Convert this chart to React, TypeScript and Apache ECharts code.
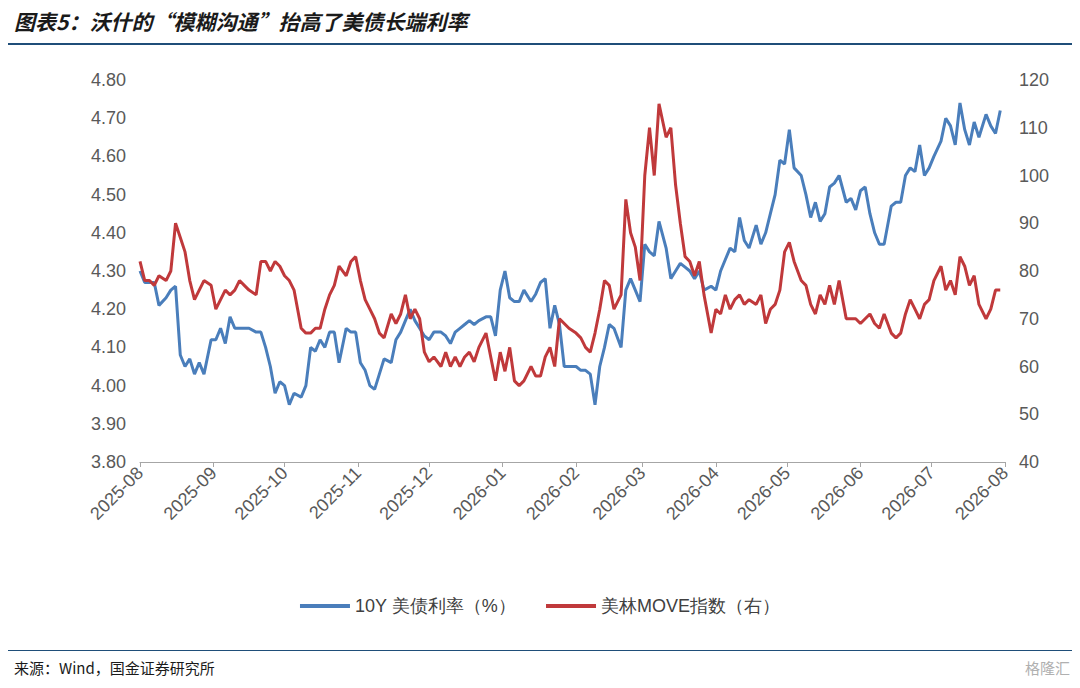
import * as echarts from 'echarts';
import { useEffect, useRef } from 'react';

// sampled roughly every 2.11 days from 2025-08-01
const startDate = Date.UTC(2025, 7, 1);
const stepDays = 2.11;

const yieldValues = [
    4.30, 4.27, 4.27, 4.27, 4.21, 4.23, 4.25, 4.26, 4.08, 4.05, 4.07, 4.03, 4.06, 4.03, 4.12, 4.12, 4.15, 4.11, 4.18, 4.15,
    4.15, 4.15, 4.15, 4.14, 4.14, 4.10, 4.05, 3.98, 4.01, 4.00, 3.95, 3.98, 3.97, 4.00, 4.10, 4.09, 4.12, 4.10, 4.14, 4.14,
    4.06, 4.15, 4.14, 4.14, 4.06, 4.04, 4.00, 3.99, 4.03, 4.07, 4.06, 4.12, 4.14, 4.17, 4.20, 4.17, 4.15, 4.13, 4.12, 4.14,
    4.14, 4.13, 4.11, 4.14, 4.15, 4.16, 4.17, 4.16, 4.17, 4.18, 4.18, 4.13, 4.25, 4.30, 4.23, 4.22, 4.22, 4.25, 4.22, 4.24,
    4.27, 4.28, 4.15, 4.21, 4.16, 4.05, 4.05, 4.05, 4.04, 4.04, 4.03, 3.95, 4.05, 4.10, 4.16, 4.15, 4.10, 4.25, 4.28, 4.25,
    4.22, 4.37, 4.35, 4.34, 4.43, 4.36, 4.28, 4.30, 4.32, 4.31, 4.30, 4.28, 4.30, 4.25, 4.26, 4.25, 4.30, 4.33, 4.36, 4.35,
    4.44, 4.38, 4.36, 4.42, 4.37, 4.40, 4.45, 4.50, 4.59, 4.58, 4.67, 4.57, 4.55, 4.50, 4.44, 4.48, 4.43, 4.45, 4.52, 4.53,
    4.55, 4.48, 4.49, 4.46, 4.51, 4.52, 4.45, 4.40, 4.37, 4.37, 4.47, 4.48, 4.48, 4.55, 4.57, 4.56, 4.63, 4.55, 4.57, 4.60,
    4.64, 4.70, 4.68, 4.63, 4.74, 4.67, 4.63, 4.69, 4.65, 4.71, 4.68, 4.66, 4.72,
];

const moveValues = [
    82, 78, 78, 77, 79, 78, 80, 90, 87, 84, 78, 74, 76, 78, 77, 72, 74, 76, 75, 76,
    78, 77, 76, 75, 82, 82, 80, 82, 81, 79, 78, 76, 68, 67, 67, 68, 68, 72, 75, 77,
    81, 79, 82, 83, 78, 74, 72, 70, 67, 66, 71, 69, 71, 75, 70, 72, 70, 63, 61, 62,
    60, 63, 60, 62, 60, 62, 63, 61, 64, 67, 62, 57, 63, 59, 64, 57, 56, 57, 60, 58,
    58, 62, 64, 60, 70, 69, 68, 67, 66, 64, 63, 67, 72, 78, 77, 72, 75, 95, 88, 85,
    78, 100, 110, 100, 115, 108, 110, 98, 90, 83, 82, 79, 82, 75, 67, 72, 71, 75, 72, 74,
    75, 73, 74, 73, 75, 69, 72, 73, 76, 84, 86, 82, 78, 77, 73, 71, 75, 73, 77, 73,
    78, 70, 70, 70, 69, 70, 71, 69, 68, 71, 67, 66, 67, 71, 74, 72, 70, 73, 74, 78,
    81, 76, 78, 75, 83, 81, 77, 79, 73, 70, 72, 76, 76,
];

const leftTicks = { min: 3.8, max: 4.8, interval: 0.1 };
const rightTicks = { min: 40, max: 120, interval: 10 };

const toDate = (i: number) => startDate + Math.round(i * stepDays) * 86400000;

export default function App() {
    const chartRef = useRef<HTMLDivElement>(null);

    useEffect(() => {
        const chart = echarts.init(chartRef.current, undefined, { renderer: 'svg' });
        const axisLabel = { color: '#595959', fontSize: 18, fontFamily: 'Arial' };
        chart.setOption({
            animation: false,
            textStyle: { fontFamily: 'Arial' },
            grid: { left: 140, right: 75, top: 80, bottom: 226 },
            legend: {
                bottom: 68,
                left: 'center',
                itemWidth: 50,
                itemHeight: 4,
                itemGap: 30,
                icon: 'rect',
                textStyle: { color: '#404040', fontSize: 18 },
                data: ['10Y 美债利率（%）', '美林MOVE指数（右）'],
            },
            xAxis: {
                type: 'time',
                min: startDate,
                max: Date.UTC(2026, 7, 1),
                splitNumber: 12,
                axisLine: { lineStyle: { color: '#a6a6a6' } },
                axisTick: { show: true, lineStyle: { color: '#a6a6a6' } },
                splitLine: { show: false },
                axisLabel: {
                    ...axisLabel,
                    rotate: 45,
                    hideOverlap: false,
                    formatter: (v: number) => {
                        const d = new Date(v);
                        return `${d.getUTCFullYear()}-${String(d.getUTCMonth() + 1).padStart(2, '0')}`;
                    },
                },
            },
            yAxis: [
                {
                    type: 'value',
                    ...leftTicks,
                    splitLine: { show: false },
                    axisLine: { show: false },
                    axisLabel: { ...axisLabel, margin: 14, formatter: (v: number) => v.toFixed(2) },
                },
                {
                    type: 'value',
                    ...rightTicks,
                    splitLine: { show: false },
                    axisLine: { show: false },
                    axisLabel: { ...axisLabel, margin: 14 },
                },
            ],
            series: [
                {
                    name: '10Y 美债利率（%）',
                    type: 'line',
                    showSymbol: false,
                    lineStyle: { color: '#4a7ebb', width: 3 },
                    itemStyle: { color: '#4a7ebb' },
                    data: yieldValues.map((v, i) => [toDate(i), v]),
                },
                {
                    name: '美林MOVE指数（右）',
                    type: 'line',
                    yAxisIndex: 1,
                    showSymbol: false,
                    lineStyle: { color: '#c0393b', width: 3 },
                    itemStyle: { color: '#c0393b' },
                    data: moveValues.map((v, i) => [toDate(i), v]),
                },
            ],
            graphic: [
                {
                    type: 'text', left: 14, top: 10,
                    style: { text: '图表5：沃什的“模糊沟通”抬高了美债长端利率', fill: '#1a1a1a', font: 'italic bold 21px "Noto Sans CJK SC"' },
                },
                { type: 'rect', left: 0, top: 43, shape: { width: 1080, height: 2 }, style: { fill: '#1f4e79' } },
                { type: 'rect', left: 0, top: 650, shape: { width: 1080, height: 1 }, style: { fill: '#1f4e79' } },
                {
                    type: 'text', left: 14, top: 660,
                    style: { text: '来源：Wind，国金证券研究所', fill: '#1a1a1a', font: '15px "Noto Sans CJK SC"' },
                },
                {
                    type: 'text', right: 10, top: 660,
                    style: { text: '格隆汇', fill: '#b0b0b0', font: '15px "Noto Sans CJK SC"' },
                },
            ],
        });
        return () => chart.dispose();
    }, []);

    return <div ref={chartRef} style={{ width: 1080, height: 688, margin: -8, background: '#fff' }} />;
}
